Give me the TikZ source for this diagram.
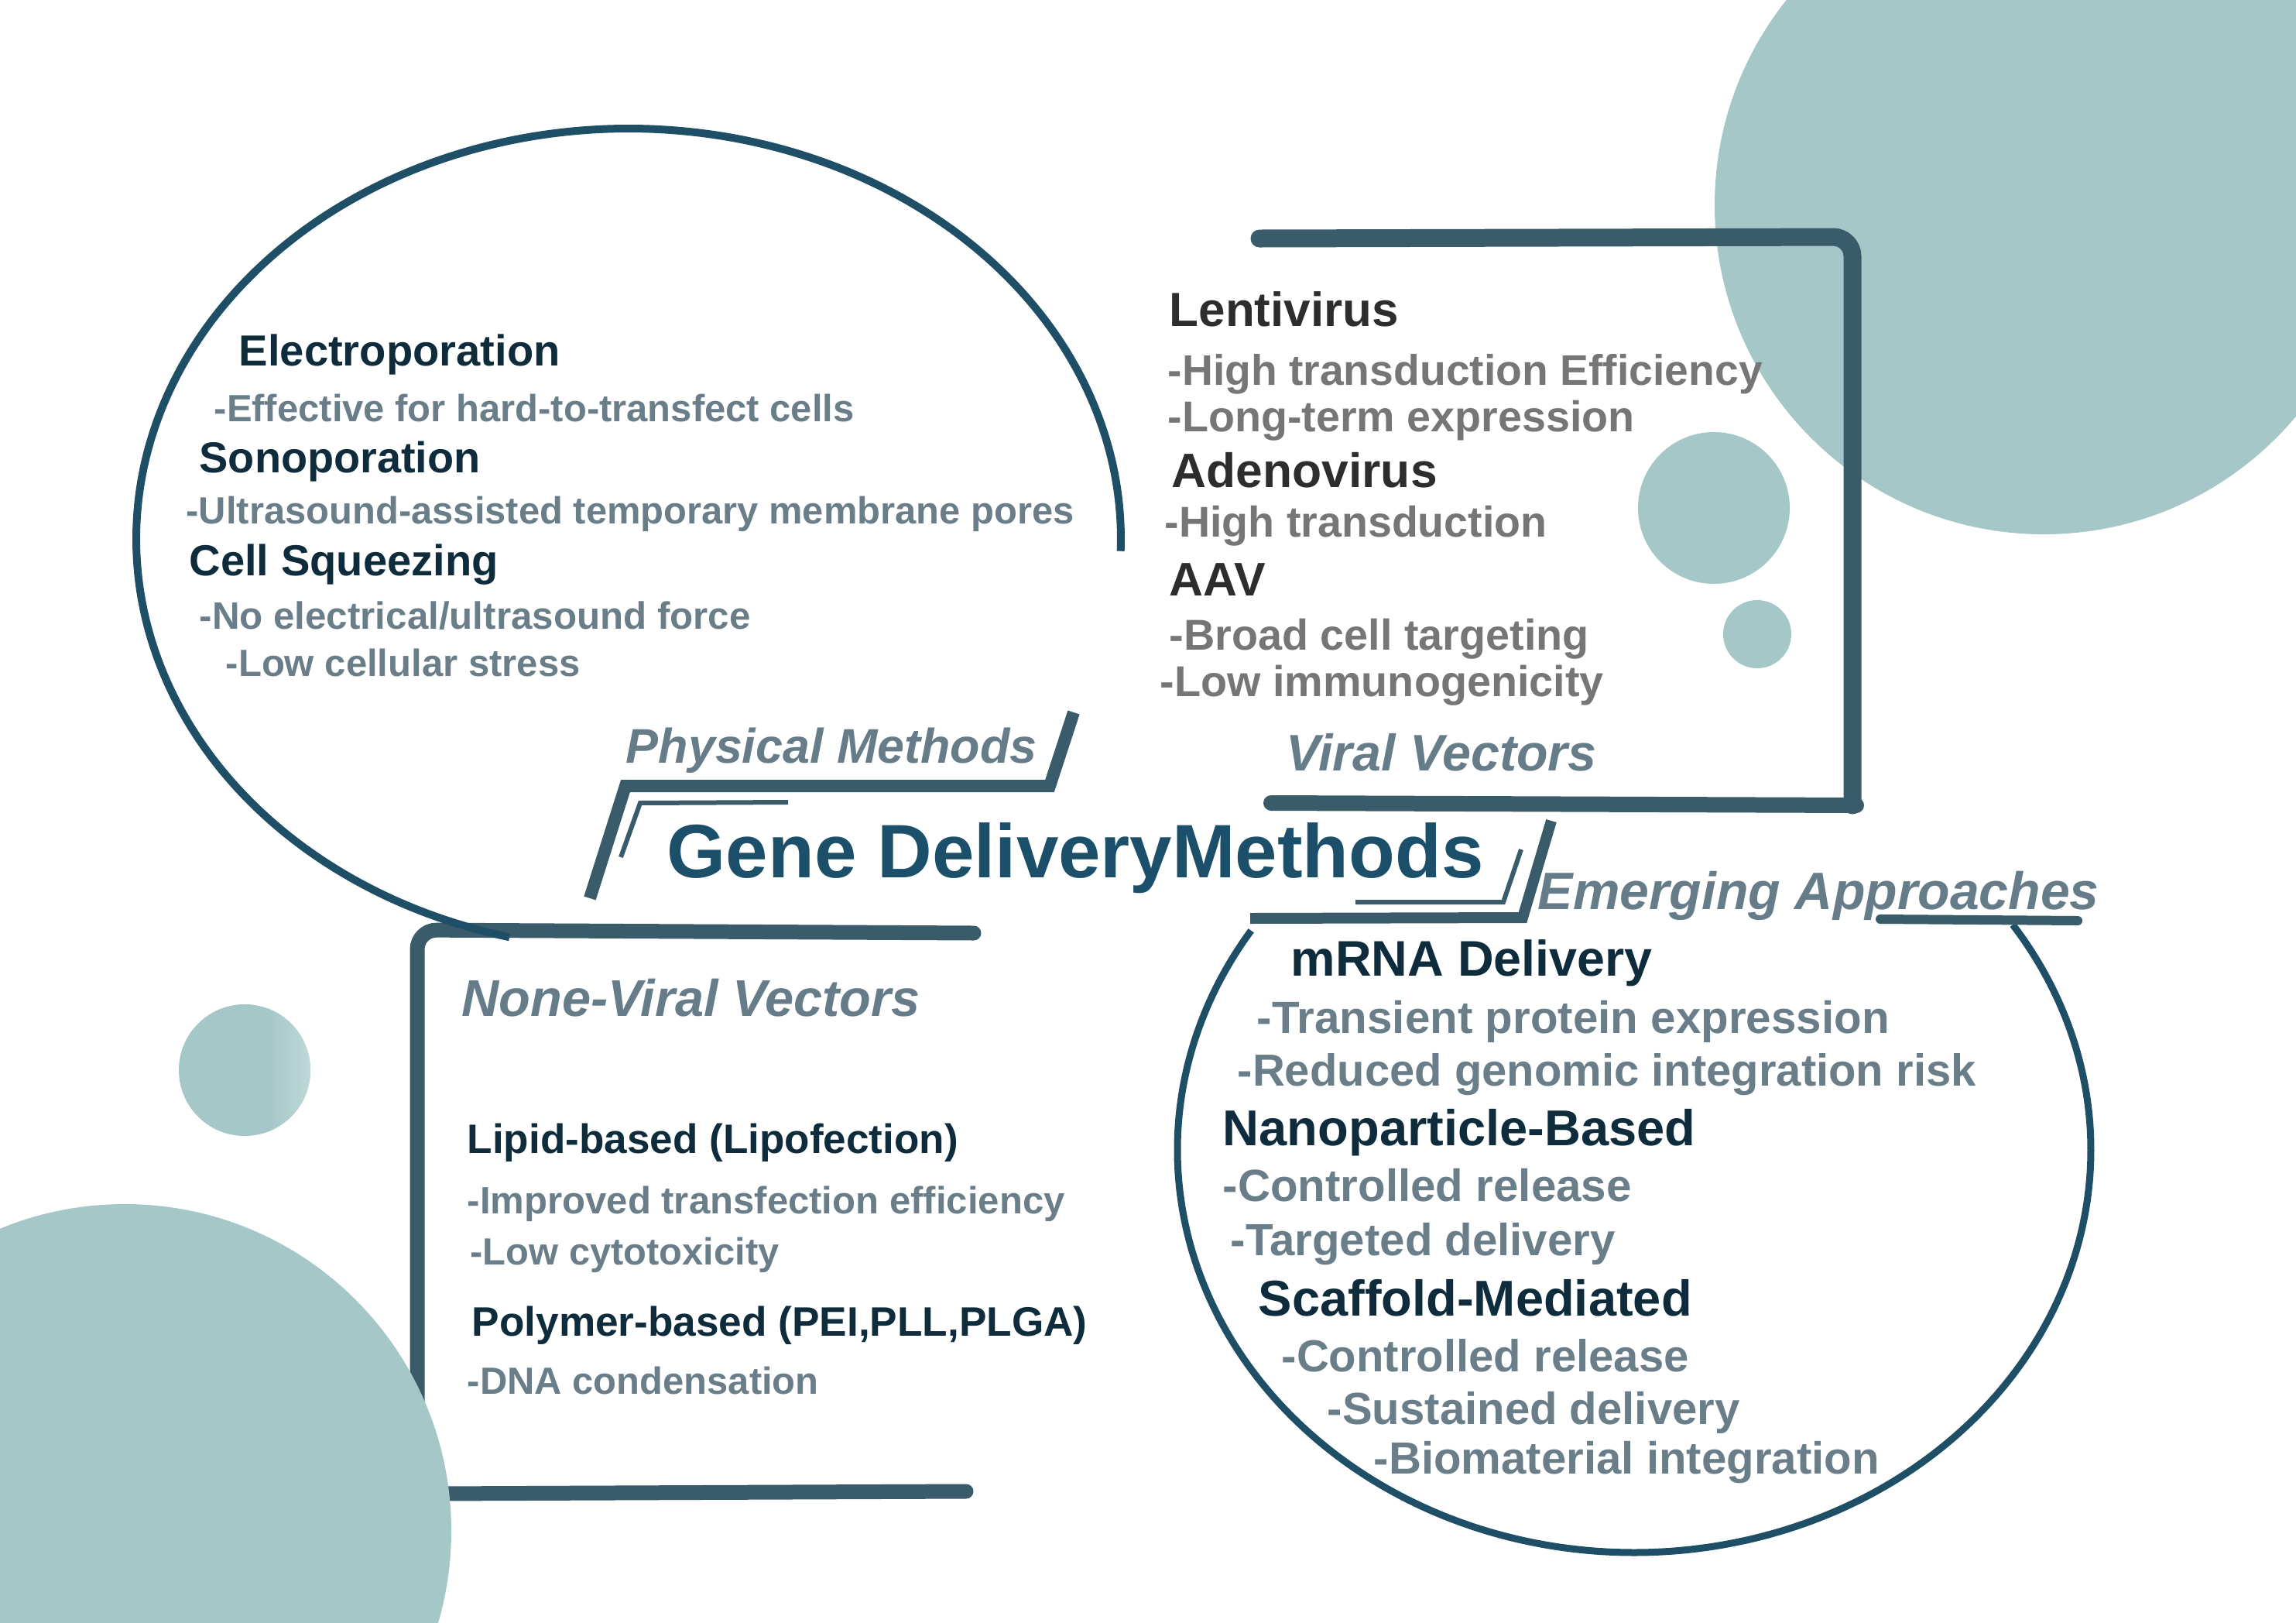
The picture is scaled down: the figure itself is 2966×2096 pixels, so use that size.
\documentclass[tikz,border=0pt]{standalone}
\usepackage{fontspec}
\setmainfont{Liberation Sans}
\usepackage{graphicx}
\newlength\pxu
\setlength\pxu{0.1mm}
\newcommand\T[2]{\resizebox{#1\pxu}{!}{\rule[-0.25em]{0pt}{1.16em}#2}}
\definecolor{circ}{HTML}{A5C7C8}
\definecolor{boxline}{HTML}{3A5C6A}
\definecolor{ellline}{HTML}{1E4F66}
\definecolor{titlec}{HTML}{1B4F6A}
\definecolor{navy}{HTML}{0E2C3C}
\definecolor{dgrey}{HTML}{2D2D2D}
\definecolor{bgrey}{HTML}{6A7E89}
\definecolor{ngrey}{HTML}{767676}
\definecolor{labc}{HTML}{667D89}
\begin{document}
\begin{tikzpicture}[x=0.1mm,y=-0.1mm,
  tx/.style={inner sep=0pt, anchor=west, font=\bfseries},
  hn/.style={tx, text=navy},
  hg/.style={tx, text=dgrey},
  sb/.style={tx, text=bgrey},
  sg/.style={tx, text=ngrey},
  lab/.style={tx, text=labc, font=\bfseries\itshape},
  ttl/.style={tx, text=titlec},
  bar/.style={draw=boxline, line join=miter},
  ell/.style={draw=ellline, line width=1mm}]
\useasboundingbox (0,0) rectangle (2966,2096);
% background circles
\fill[circ] (2640,265) circle[radius=425];
\fill[circ] (2214,656) circle[radius=98];
\fill[circ] (2270,819) circle[radius=44];
\fill[circ] (316,1382) circle[radius=85];
\begin{scope}
\clip (316,1382) circle[radius=85];
\shade[left color=circ, right color=circ!70!white] (346,1290) rectangle (402,1470);
\end{scope}
% viral box
\draw[draw=boxline, line width=2.3mm, rounded corners=2.5mm, line cap=round] (1627,308) -- (2393,306) -- (2393,1040);
\draw[draw=boxline, line width=2mm, line cap=round] (1642,1037) -- (2398,1040);
% none-viral box
\draw[draw=boxline, line width=1.9mm, rounded corners=2.5mm, line cap=round] (1258,1205) -- (539,1201) -- (539,1935);
\draw[draw=boxline, line width=1.9mm, line cap=round] (560,1929) -- (1248,1926);
\fill[circ] (161,1977) circle[radius=422];
% ellipses
\draw[ell] plot[domain=-256:1.7, samples=240, smooth] ({812+636*cos(\x)}, {696+530*sin(\x)});
\draw[ell, line width=0.9mm] plot[domain=-34:213, samples=240, smooth] ({2111+590*cos(\x)}, {1485+520*sin(\x)});
% brackets
\draw[bar, line width=1.6mm] (1387,920) -- (1356,1015) -- (808,1015) -- (762,1160);
\draw[bar, line width=0.6mm] (1018,1036) -- (827,1037) -- (802,1107);
\draw[bar, line width=1.4mm] (2004,1060) -- (1967,1185) -- (1615,1186);
\draw[bar, line width=0.6mm] (1965,1097) -- (1942,1165) -- (1751,1165);
\draw[draw=boxline, line width=1.2mm, line cap=round] (2429,1187) -- (2684,1189);
% title
\node[ttl] (title) at (861,1101) {\T{1055}{Gene DeliveryMethods}};
% physical
\node[lab] (physlab) at (808,965) {\T{531}{Physical Methods}};
\node[hn] (electro) at (308,454) {\T{415}{Electroporation}};
\node[sb] (electroA) at (276,528) {\T{827}{-Effective for hard-to-transfect cells}};
\node[hn] (sono) at (257,592) {\T{363}{Sonoporation}};
\node[sb] (sonoA) at (240,660) {\T{1147}{-Ultrasound-assisted temporary membrane pores}};
\node[hn] (squeeze) at (244,725) {\T{399}{Cell Squeezing}};
\node[sb] (squeezeA) at (257,796) {\T{712}{-No electrical/ultrasound force}};
\node[sb] (squeezeB) at (291,857) {\T{458}{-Low cellular stress}};
% viral
\node[lab] (virlab) at (1661,974) {\T{401}{Viral Vectors}};
\node[hg] (lenti) at (1510,401) {\T{296}{Lentivirus}};
\node[sg] (lentiA) at (1508,479) {\T{768}{-High transduction Efficiency}};
\node[sg] (lentiB) at (1508,539) {\T{603}{-Long-term expression}};
\node[hg] (adeno) at (1513,609) {\T{343}{Adenovirus}};
\node[sg] (adenoA) at (1504,675) {\T{494}{-High transduction}};
\node[hg] (aav) at (1510,749) {\T{124}{AAV}};
\node[sg] (aavA) at (1510,821) {\T{542}{-Broad cell targeting}};
\node[sg] (aavB) at (1498,881) {\T{573}{-Low immunogenicity}};
% none-viral
\node[lab] (nvlab) at (596,1290) {\T{592}{None-Viral Vectors}};
\node[hn] (lipid) at (603,1472) {\T{634}{Lipid-based (Lipofection)}};
\node[sb] (lipidA) at (603,1551) {\T{772}{-Improved transfection efficiency}};
\node[sb] (lipidB) at (607,1617) {\T{399}{-Low cytotoxicity}};
\node[hn] (poly) at (609,1708) {\T{795}{Polymer-based (PEI,PLL,PLGA)}};
\node[sb] (polyA) at (603,1784) {\T{454}{-DNA condensation}};
% emerging
\node[lab] (emlab) at (1986,1152) {\T{725}{Emerging Approaches}};
\node[hn] (mrna) at (1667,1239) {\T{467}{mRNA Delivery}};
\node[sb] (mrnaA) at (1623,1315) {\T{817}{-Transient protein expression}};
\node[sb] (mrnaB) at (1598,1383) {\T{954}{-Reduced genomic integration risk}};
\node[hn] (nano) at (1579,1458) {\T{611}{Nanoparticle-Based}};
\node[sb] (nanoA) at (1579,1532) {\T{528}{-Controlled release}};
\node[sb] (nanoB) at (1589,1602) {\T{497}{-Targeted delivery}};
\node[hn] (scaf) at (1625,1678) {\T{560}{Scaffold-Mediated}};
\node[sb] (scafA) at (1655,1752) {\T{526}{-Controlled release}};
\node[sb] (scafB) at (1714,1820) {\T{533}{-Sustained delivery}};
\node[sb] (scafC) at (1774,1884) {\T{653}{-Biomaterial integration}};
\end{tikzpicture}
\end{document}
